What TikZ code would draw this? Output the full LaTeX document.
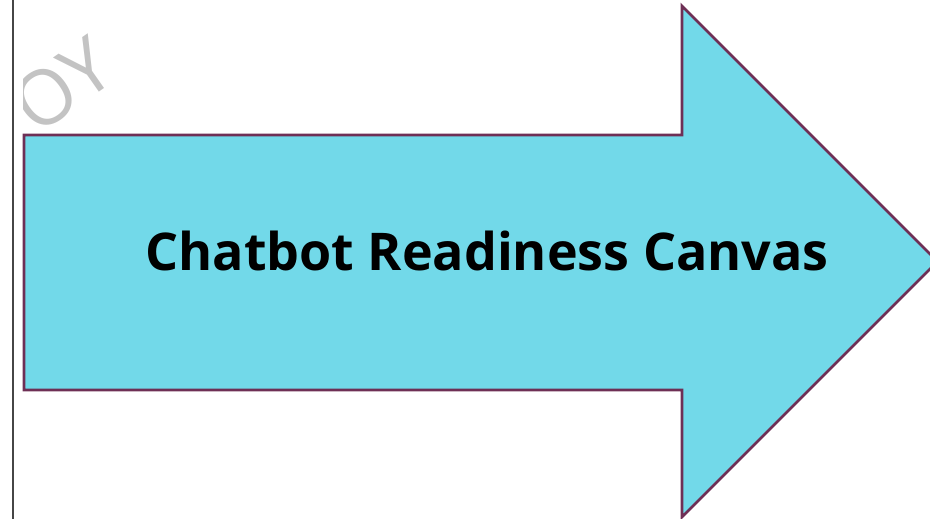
\documentclass[tikz,border=0pt]{standalone}
\usepackage{fontspec}
\setmainfont{Open Sans}
\usepackage{tikz}
\usepackage{xcolor}
\definecolor{canvasCyan}{RGB}{114,217,233}
\definecolor{plumEdge}{RGB}{110,47,85}
\definecolor{railGray}{RGB}{70,70,70}
\definecolor{ghostGray}{RGB}{195,195,195}

\begin{document}
\begin{tikzpicture}[
    x=1pt, y=-1pt,
    bigarrow/.style={draw=plumEdge, fill=canvasCyan, line width=2.8pt, line join=miter},
    rail/.style={draw=railGray, line width=2.4pt},
    title/.style={font=\fontsize{52}{60}\selectfont\bfseries, text=black, inner sep=0pt},
    ghost/.style={font=\fontsize{76}{80}\selectfont, text=ghostGray, inner sep=0pt, rotate=35},
  ]
  \useasboundingbox (0,0) rectangle (930,519);
  \clip (0,0) rectangle (930,519);
  % margin rail
  \coordinate (railtop) at (13,0);
  \coordinate (railbot) at (13,519);
  \draw[rail] (railtop) -- (railbot);
  % faded word behind the arrow
  \begin{scope}
    \clip (23,0) rectangle (200,135);
    \node[ghost] (ghost) at (62,85) {OY};
  \end{scope}
  % arrow
  \draw[bigarrow] (24,135) -- (682,135) -- (682,6) -- (937.5,261.5)
    -- (682,517) -- (682,390) -- (24,390) -- cycle;
  \node[title] (title) at (487,251) {Chatbot Readiness Canvas};
\end{tikzpicture}
\end{document}
